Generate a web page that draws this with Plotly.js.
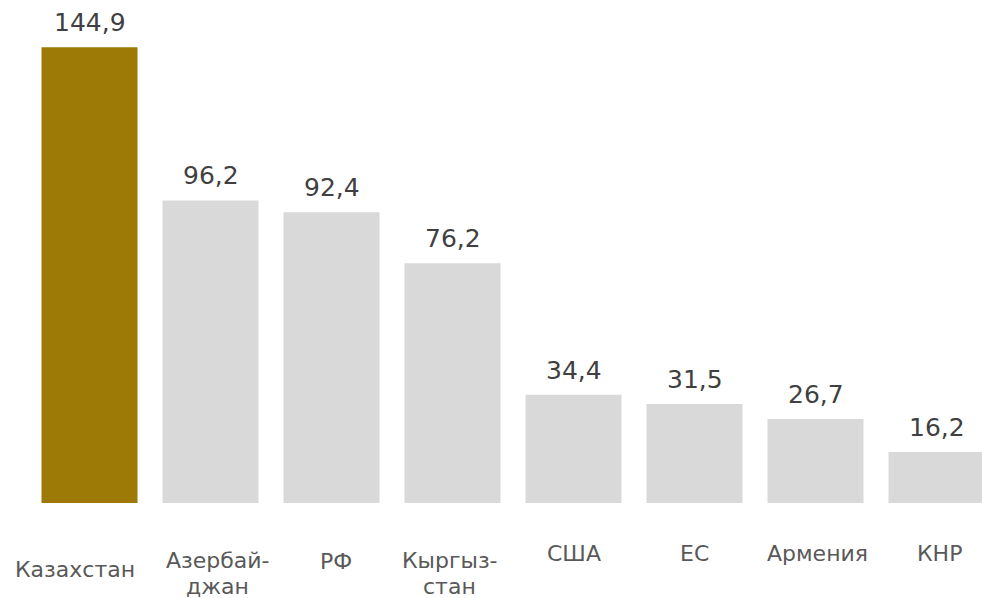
<!DOCTYPE html>
<html>
<head>
<meta charset="utf-8">
<script src="https://cdn.plot.ly/plotly-3.0.1.min.js"></script>
<style>html,body{margin:0;padding:0;background:#fff;}#chart{width:982px;height:598px;}</style>
</head>
<body>
<div id="chart"></div>
<script>
// ---- data ----
var categories = ["Казахстан", "Азербайджан", "РФ", "Кыргызстан", "США", "ЕС", "Армения", "КНР"];
var tickLabelLines = [["Казахстан"], ["Азербай-", "джан"], ["РФ"], ["Кыргыз-", "стан"], ["США"], ["ЕС"], ["Армения"], ["КНР"]];
var values = [144.9, 96.2, 92.4, 76.2, 34.4, 31.5, 26.7, 16.2];
var valueLabels = ["144,9", "96,2", "92,4", "76,2", "34,4", "31,5", "26,7", "16,2"];

// ---- styling ----
var highlightColor = "#9C7A05";
var baseColor = "#D9D9D9";
var fontFamily = "DejaVu Sans, Verdana, sans-serif";
// fine placement of category labels (px below the baseline, per line)
var labelDx = [-15, 7, 4, -3, 0, 0, 2, 3];
var labelDy = [[66], [57, 83], [58], [57, 83], [50], [50], [50], [50]];

var colors = categories.map(function (c, i) { return i === 0 ? highlightColor : baseColor; });

var trace = {
  type: "bar",
  x: categories,
  y: values,
  marker: { color: colors },
  hoverinfo: "none"
};

var annotations = [];
categories.forEach(function (c, i) {
  annotations.push({
    x: c, y: values[i], xref: "x", yref: "y",
    text: valueLabels[i], showarrow: false,
    yanchor: "bottom", xanchor: "center", yshift: 8,
    font: { family: fontFamily, size: 25, color: "#404040" }
  });
  tickLabelLines[i].forEach(function (line, k) {
    annotations.push({
      x: c, y: 0, xref: "x", yref: "y",
      text: line, showarrow: false, borderpad: 0,
      yanchor: "middle", xanchor: "center",
      xshift: labelDx[i], yshift: -labelDy[i][k],
      font: { family: fontFamily, size: 22, color: "#595959" }
    });
  });
});

var layout = {
  width: 982, height: 598,
  margin: { l: 29, r: 0, t: 0, b: 95, pad: 0 },
  paper_bgcolor: "#ffffff", plot_bgcolor: "#ffffff",
  showlegend: false,
  bargap: 0.2066,
  xaxis: {
    type: "category",
    range: [-0.5, -0.5 + 953 / 121],
    showticklabels: false, showgrid: false, zeroline: false, showline: false, ticks: ""
  },
  yaxis: {
    range: [0, 159.9],
    showticklabels: false, showgrid: false, zeroline: false, showline: false, ticks: ""
  },
  annotations: annotations
};

Plotly.newPlot("chart", [trace], layout, { displayModeBar: false, staticPlot: true });
</script>
</body>
</html>
